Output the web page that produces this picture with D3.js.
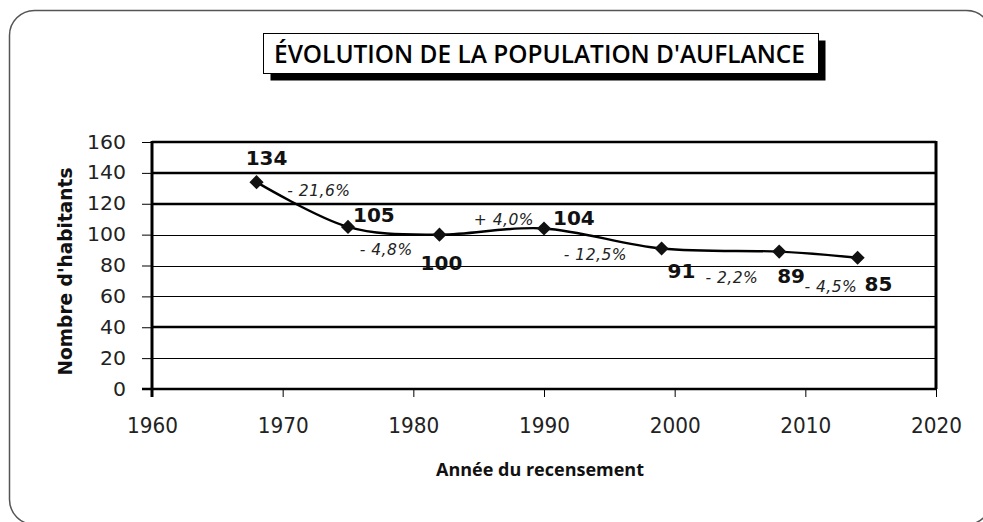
<!DOCTYPE html>
<html lang="fr">
<head>
<meta charset="utf-8">
<script src="https://cdn.jsdelivr.net/npm/d3@7"></script>
<style>
  html, body { margin: 0; padding: 0; background: #fff; }
  svg { display: block; }
</style>
</head>
<body>
<svg id="chart" width="983" height="522"></svg>
<script>
// Census years and population of Auflance
const years = [1968, 1975, 1982, 1990, 1999, 2008, 2014];
const population = [134, 105, 100, 104, 91, 89, 85];

// Axis ticks
const xTicks = [1960, 1970, 1980, 1990, 2000, 2010, 2020];
const yTicks = [0, 20, 40, 60, 80, 100, 120, 140, 160];

// Texts
const chartTitle = "ÉVOLUTION DE LA POPULATION D'AUFLANCE";
const xTitle = "Année du recensement";
const yTitle = "Nombre d'habitants";

// Label placement relative to each point (value labels) and to each segment midpoint (change labels)
const valueLabelPlacement = [
  { anchor: "middle", dx: 10, dy: -17 },
  { anchor: "start", dx: 5, dy: -5 },
  { anchor: "middle", dx: 2, dy: 35 },
  { anchor: "start", dx: 9, dy: -3 },
  { anchor: "start", dx: 6, dy: 29 },
  { anchor: "start", dx: -2, dy: 31 },
  { anchor: "start", dx: 7, dy: 33 }
];
const changeLabelPlacement = [
  { dx: -15, dy: -9 },
  { dx: -34, dy: 24 },
  { dx: -18, dy: -7 },
  { dx: -39, dy: 22 },
  { dx: -15, dy: 33 },
  { dx: -14, dy: 37 }
];

const svg = d3.select("#chart");

// Outer rounded frame
svg.append("rect")
  .attr("x", 9.5).attr("y", 10.5)
  .attr("width", 982).attr("height", 514)
  .attr("rx", 25).attr("ry", 25)
  .attr("fill", "#fff")
  .attr("stroke", "#555").attr("stroke-width", 1.5);

// Title box with drop shadow
const tb = { x: 263.5, y: 33.5, w: 555, h: 40 };
svg.append("rect")
  .attr("x", tb.x + 7).attr("y", tb.y + 7)
  .attr("width", tb.w).attr("height", tb.h)
  .attr("fill", "#000");
svg.append("rect")
  .attr("x", tb.x).attr("y", tb.y)
  .attr("width", tb.w).attr("height", tb.h)
  .attr("fill", "#fff").attr("stroke", "#000").attr("stroke-width", 1);
svg.append("text")
  .attr("x", 274).attr("y", 63)
  .attr("font-family", "'Open Sans', 'Noto Sans', sans-serif")
  .attr("font-weight", 600)
  .attr("font-size", 25)
  .attr("textLength", 531)
  .attr("lengthAdjust", "spacingAndGlyphs")
  .attr("fill", "#000")
  .text(chartTitle);

// Plot area
const plot = { left: 152, right: 936, top: 142, bottom: 389 };
const x = d3.scaleLinear().domain([xTicks[0], xTicks[xTicks.length - 1]]).range([plot.left, plot.right]);
const y = d3.scaleLinear().domain([yTicks[0], yTicks[yTicks.length - 1]]).range([plot.bottom, plot.top]);

// Horizontal gridlines
const thick = new Set([160, 140, 120, 40]);
svg.append("g")
  .selectAll("line")
  .data(yTicks.filter(d => d > 0))
  .join("line")
  .attr("x1", plot.left).attr("x2", plot.right)
  .attr("y1", d => Math.round(y(d)) + (thick.has(d) ? 0 : 0.5))
  .attr("y2", d => Math.round(y(d)) + (thick.has(d) ? 0 : 0.5))
  .attr("stroke", "#000")
  .attr("stroke-width", d => thick.has(d) ? 2.5 : 1);

// Right border of plot area
svg.append("line")
  .attr("x1", plot.right).attr("x2", plot.right)
  .attr("y1", plot.top - 1).attr("y2", plot.bottom)
  .attr("stroke", "#000").attr("stroke-width", 3);

// Y axis
const yAxis = svg.append("g")
  .attr("transform", `translate(${plot.left},0)`)
  .call(d3.axisLeft(y).tickValues(yTicks).tickSize(10).tickPadding(16).tickFormat(d3.format("d")));
yAxis.select(".domain").attr("stroke", "#000").attr("stroke-width", 3)
  .attr("d", `M0,${plot.top - 1}V${plot.bottom + 8}`);
yAxis.selectAll(".tick line").attr("stroke", "#000").attr("stroke-width", 1);
yAxis.selectAll(".tick text")
  .attr("font-family", "'DejaVu Sans', Verdana, sans-serif")
  .attr("font-size", 19)
  .attr("textLength", d => String(d).length * 13)
  .attr("lengthAdjust", "spacingAndGlyphs")
  .attr("fill", "#222");

// X axis
const xAxis = svg.append("g")
  .attr("transform", `translate(0,${plot.bottom})`)
  .call(d3.axisBottom(x).tickValues(xTicks).tickSize(8).tickPadding(20).tickFormat(d3.format("d")));
xAxis.select(".domain").attr("stroke", "#000").attr("stroke-width", 2.5)
  .attr("d", `M${plot.left - 10},0H${plot.right}`);
xAxis.selectAll(".tick line").attr("stroke", "#000").attr("stroke-width", 1);
xAxis.selectAll(".tick text")
  .attr("font-family", "'DejaVu Sans', sans-serif")
  .attr("font-size", 22)
  .attr("textLength", 51)
  .attr("lengthAdjust", "spacingAndGlyphs")
  .attr("fill", "#222");

// Axis titles
svg.append("text")
  .attr("x", (plot.left + plot.right) / 2 - 4).attr("y", 476)
  .attr("text-anchor", "middle")
  .attr("font-family", "'Open Sans', sans-serif")
  .attr("font-weight", 700)
  .attr("font-size", 18)
  .attr("textLength", 208)
  .attr("lengthAdjust", "spacingAndGlyphs")
  .attr("fill", "#111")
  .text(xTitle);

svg.append("text")
  .attr("transform", `translate(72,${(plot.top + plot.bottom) / 2 + 6}) rotate(-90)`)
  .attr("text-anchor", "middle")
  .attr("font-family", "'DejaVu Sans', Verdana, sans-serif")
  .attr("font-weight", 700)
  .attr("font-size", 19)
  .attr("textLength", 208)
  .attr("lengthAdjust", "spacingAndGlyphs")
  .attr("fill", "#111")
  .text(yTitle);

// Population line (smoothed)
const pts = years.map((yr, i) => [x(yr), y(population[i])]);
svg.append("path")
  .datum(pts)
  .attr("d", d3.line().curve(d3.curveCardinal.tension(0)))
  .attr("fill", "none")
  .attr("stroke", "#000")
  .attr("stroke-width", 2.4);

// Diamond markers
svg.append("g")
  .selectAll("path")
  .data(pts)
  .join("path")
  .attr("transform", d => `translate(${d[0]},${d[1]}) rotate(45)`)
  .attr("d", d3.symbol(d3.symbolSquare, 100))
  .attr("fill", "#111");

// Value labels
svg.append("g")
  .selectAll("text")
  .data(population)
  .join("text")
  .attr("x", (d, i) => pts[i][0] + valueLabelPlacement[i].dx)
  .attr("y", (d, i) => pts[i][1] + valueLabelPlacement[i].dy)
  .attr("text-anchor", (d, i) => valueLabelPlacement[i].anchor)
  .attr("font-family", "'DejaVu Sans', Verdana, sans-serif")
  .attr("font-weight", 700)
  .attr("font-size", 20)
  .attr("fill", "#111")
  .text(d => d);

// Change labels between successive censuses
const fmtChange = (a, b) => {
  const pct = (b - a) / a * 100;
  const sign = pct < 0 ? "- " : "+ ";
  return sign + Math.abs(pct).toFixed(1).replace(".", ",") + "%";
};
const changes = population.slice(1).map((v, i) => fmtChange(population[i], v));
svg.append("g")
  .selectAll("text")
  .data(changes)
  .join("text")
  .attr("x", (d, i) => (pts[i][0] + pts[i + 1][0]) / 2 + changeLabelPlacement[i].dx)
  .attr("y", (d, i) => (pts[i][1] + pts[i + 1][1]) / 2 + changeLabelPlacement[i].dy)
  .attr("font-family", "'DejaVu Sans', Verdana, sans-serif")
  .attr("font-style", "italic")
  .attr("font-size", 15.5)
  .attr("letter-spacing", 0.5)
  .attr("fill", "#222")
  .text(d => d);
</script>
</body>
</html>
